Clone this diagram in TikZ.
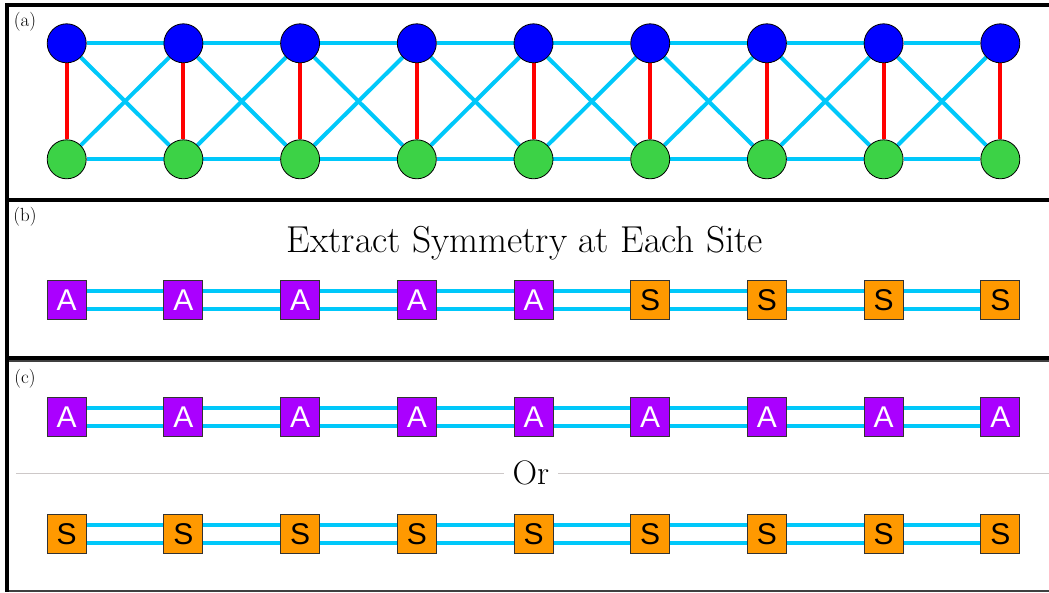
\documentclass[tikz,border=0pt]{standalone}
\usepackage{fontspec}
\newfontfamily\sitefont{Liberation Sans}
\usetikzlibrary{backgrounds}
\definecolor{bondcyan}{RGB}{0,200,250}
\definecolor{siteblue}{RGB}{0,0,255}
\definecolor{sitegreen}{RGB}{60,210,70}
\definecolor{symA}{RGB}{170,0,255}
\definecolor{symS}{RGB}{255,153,0}
\definecolor{rulegray}{RGB}{205,200,200}
\begin{document}
\begin{tikzpicture}[x=1pt,y=-1pt,
  upper/.style={circle,draw=black,line width=0.8pt,fill=siteblue,minimum size=39pt,inner sep=0pt},
  lower/.style={upper,fill=sitegreen},
  asite/.style={draw=black!80,line width=1pt,fill=symA,minimum size=39pt,inner sep=0pt,
    text=white,font=\sitefont\fontsize{30}{31}\selectfont},
  ssite/.style={asite,fill=symS,text=black},
  bond/.style={bondcyan,line width=4pt},
  rung/.style={red,line width=4pt},
  pairbond/.style={draw=bondcyan,line width=4pt,double=white,double distance=14pt},
  frame/.style={line width=4pt},
  thinframe/.style={draw=black!75,line width=2pt},
  panel/.style={font=\fontsize{19}{22}\selectfont,inner sep=0pt},
  heading/.style={font=\fontsize{37.5}{42}\selectfont,inner sep=0pt},
  orword/.style={font=\fontsize{34}{40}\selectfont,inner sep=0pt,inner xsep=9pt}]
\useasboundingbox (0,0) rectangle (1049,592);

% panel frames
\draw[frame] (1049,5) -- (7,5) -- (7,592);
\draw[frame] (7,200) -- (1049,200);
\draw[frame] (7,358) -- (1049,358);
\draw[thinframe] (9,361) -- (1049,361);
\draw[thinframe] (9,590.5) -- (1049,590.5);

% panel labels
\node[panel] (la) at (25,22) {(a)};
\node[panel] (lb) at (25,216.5) {(b)};
\node[panel] (lc) at (25,378.5) {(c)};

% (a) two-leg ladder
\foreach \i in {1,...,9} {
  \pgfmathsetmacro\xx{66.7+116.7*(\i-1)}
  \node[upper] (t\i) at (\xx,43.3) {};
  \node[lower] (b\i) at (\xx,159.3) {};
}
\begin{scope}[on background layer]
  \foreach \i in {1,...,9} \draw[rung] (t\i) -- (b\i);
  \foreach \i in {1,...,8} {
    \pgfmathtruncatemacro\j{\i+1}
    \draw[bond] (t\i) -- (t\j);
    \draw[bond] (b\i) -- (b\j);
    \draw[bond] (t\i) -- (b\j);
    \draw[bond] (b\i) -- (t\j);
  }
\end{scope}

% (b) symmetry extracted per site
\node[heading,anchor=base] (title) at (525,252) {Extract Symmetry at Each Site};
\foreach \i/\sty/\s in {1/asite/A,2/asite/A,3/asite/A,4/asite/A,5/asite/A,
                        6/ssite/S,7/ssite/S,8/ssite/S,9/ssite/S} {
  \pgfmathsetmacro\xx{66.7+116.7*(\i-1)}
  \node[\sty] (m\i) at (\xx,300) {\s};
}
% (c) uniform alternatives
\foreach \i in {1,...,9} {
  \pgfmathsetmacro\xx{66.7+116.7*(\i-1)}
  \node[asite] (p\i) at (\xx,417) {A};
  \node[ssite] (q\i) at (\xx,534) {S};
}
\begin{scope}[on background layer]
  \foreach \i in {1,...,8} {
    \pgfmathtruncatemacro\j{\i+1}
    \draw[pairbond] (m\i) -- (m\j);
    \draw[pairbond] (p\i) -- (p\j);
    \draw[pairbond] (q\i) -- (q\j);
  }
\end{scope}

% separator with "Or"
\node[orword] (or) at (531,473) {Or};
\coordinate (sepL) at (16,473);
\coordinate (sepR) at (1049,473);
\draw[rulegray,line width=1pt] (sepL) -- (or.west);
\draw[rulegray,line width=1pt] (or.east) -- (sepR);
\end{tikzpicture}
\end{document}
